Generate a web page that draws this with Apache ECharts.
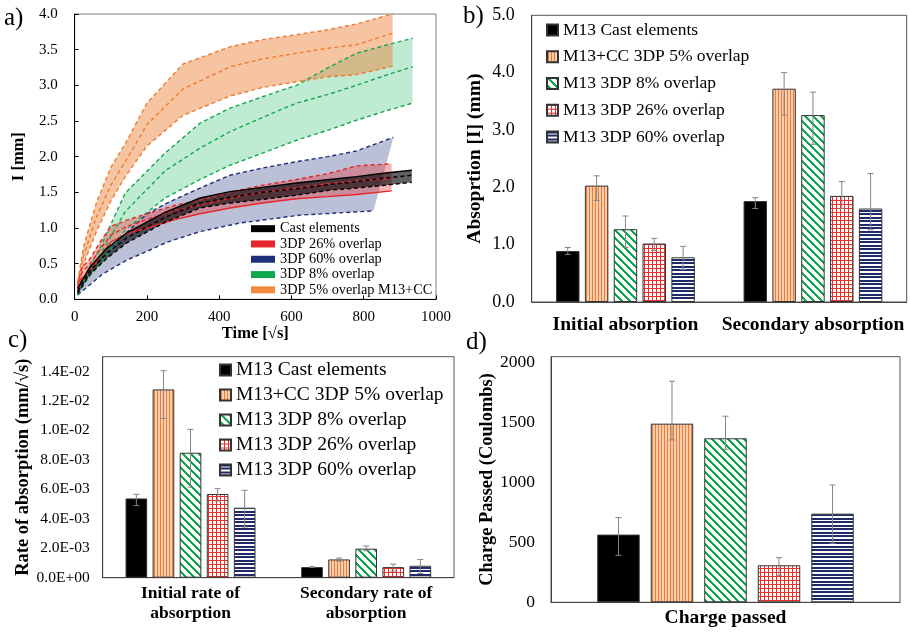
<!DOCTYPE html>
<html>
<head>
<meta charset="utf-8">
<script src="https://cdn.jsdelivr.net/npm/echarts/dist/echarts.min.js"></script>
<style>
  html, body { margin: 0; padding: 0; background: #fff; }
  #main { width: 910px; height: 632px; }
</style>
</head>
<body>
<div id="main"></div>
<script>
// ---- a) absorption curves: upper / mean / lower ----
const orangeX = [8, 25, 60, 100, 140, 200, 300, 430, 520, 614, 700, 780, 880];
const orangeUp = [0.25, 0.75, 1.35, 1.85, 2.18, 2.75, 3.3, 3.54, 3.64, 3.71, 3.78, 3.86, 4.0];
const orangeMid = [0.2, 0.62, 1.15, 1.6, 1.93, 2.45, 2.95, 3.26, 3.37, 3.45, 3.52, 3.57, 3.73];
const orangeLow = [0.15, 0.5, 0.95, 1.38, 1.72, 2.15, 2.58, 2.85, 2.97, 3.05, 3.12, 3.15, 3.27];

const greenX = [8, 30, 70, 140, 250, 347, 430, 520, 614, 706, 780, 860, 935];
const greenUp = [0.1, 0.35, 0.72, 1.49, 2.05, 2.47, 2.68, 2.84, 3.0, 3.26, 3.45, 3.56, 3.66];
const greenMid = [0.08, 0.3, 0.62, 1.23, 1.8, 2.12, 2.35, 2.55, 2.75, 2.88, 3.0, 3.14, 3.26];
const greenLow = [0.06, 0.25, 0.5, 0.97, 1.42, 1.68, 1.88, 2.05, 2.23, 2.38, 2.51, 2.64, 2.75];

const navyUpX = [8, 60, 140, 200, 264, 347, 430, 520, 614, 700, 780, 882];
const navyUp = [0.1, 0.5, 0.92, 1.2, 1.37, 1.56, 1.74, 1.84, 1.93, 2.0, 2.08, 2.27];
const navyLowX = [8, 79, 144, 199, 255, 347, 458, 624, 827];
const navyLow = [0.06, 0.36, 0.55, 0.67, 0.8, 0.95, 1.07, 1.18, 1.24];

const redX = [8, 20, 40, 70, 100, 144, 200, 280, 347, 430, 520, 614, 700, 780, 877];
const redUp = [0.2, 0.45, 0.55, 0.8, 1.02, 1.11, 1.2, 1.32, 1.39, 1.5, 1.6, 1.68, 1.76, 1.87, 1.9];
const redMid = [0.15, 0.38, 0.48, 0.7, 0.9, 1.02, 1.12, 1.25, 1.32, 1.42, 1.5, 1.56, 1.62, 1.66, 1.7];
const redLow = [0.1, 0.3, 0.38, 0.6, 0.8, 0.92, 1.0, 1.12, 1.2, 1.28, 1.35, 1.41, 1.44, 1.47, 1.52];

const castX = [8, 42, 90, 144, 250, 347, 430, 520, 614, 706, 780, 860, 933];
const castUp = [0.15, 0.45, 0.72, 0.93, 1.22, 1.42, 1.51, 1.57, 1.63, 1.68, 1.72, 1.77, 1.81];
const castMid = [0.11, 0.4, 0.65, 0.86, 1.15, 1.35, 1.43, 1.5, 1.55, 1.61, 1.65, 1.7, 1.74];
const castLow = [0.08, 0.35, 0.58, 0.79, 1.08, 1.28, 1.35, 1.4, 1.46, 1.53, 1.56, 1.6, 1.64];

const aLegend = ['Cast elements', '3DP 26% overlap', '3DP 60% overlap', '3DP 8% overlap', '3DP 5% overlap M13+CC'];

// ---- bar panels ----
const barNames = ['M13 Cast elements', 'M13+CC 3DP 5% overlap', 'M13 3DP 8% overlap', 'M13 3DP 26% overlap', 'M13 3DP 60% overlap'];

// b) absorption [I] (mm)
const bCats = ['Initial absorption', 'Secondary absorption'];
const bCast = [0.89, 1.76], bCastLo = [0.83, 1.63], bCastHi = [0.95, 1.82];
const bCC5 = [2.03, 3.72], bCC5Lo = [1.77, 3.26], bCC5Hi = [2.20, 4.0];
const bP8 = [1.27, 3.26], bP8Lo = [0.95, 2.75], bP8Hi = [1.50, 3.66];
const bP26 = [1.02, 1.85], bP26Lo = [0.90, 1.63], bP26Hi = [1.11, 2.10];
const bP60 = [0.78, 1.63], bP60Lo = [0.57, 1.26], bP60Hi = [0.97, 2.24];

// c) rate of absorption (mm/√s)
const cCats = ['Initial rate of\nabsorption', 'Secondary rate of\nabsorption'];
const cCast = [5.38e-3, 0.72e-3], cCastLo = [4.89e-3, 0.69e-3], cCastHi = [5.66e-3, 0.75e-3];
const cCC5 = [12.78e-3, 1.24e-3], cCC5Lo = [10.81e-3, 1.12e-3], cCC5Hi = [14.05e-3, 1.33e-3];
const cP8 = [8.48e-3, 1.97e-3], cP8Lo = [6.15e-3, 1.83e-3], cP8Hi = [10.07e-3, 2.15e-3];
const cP26 = [5.68e-3, 0.72e-3], cP26Lo = [5.2e-3, 0.45e-3], cP26Hi = [6.04e-3, 0.92e-3];
const cP60 = [4.75e-3, 0.81e-3], cP60Lo = [3.44e-3, 0.29e-3], cP60Hi = [5.93e-3, 1.24e-3];

// d) charge passed (Coulombs)
const dCats = ['Charge passed'];
const dVals = [565, 1491, 1369, 309, 740];
const dLo = [392, 1355, 1277, 225, 492];
const dHi = [707, 1845, 1553, 373, 979];

const FONT = "'Liberation Serif', 'Times New Roman', serif";

// 填充图案
function pattern(kind) {
  const cv = document.createElement('canvas');
  let ctx;
  if (kind === 'vstripe') {
    cv.width = 3; cv.height = 3; ctx = cv.getContext('2d');
    ctx.fillStyle = '#F9CDB0'; ctx.fillRect(0, 0, 3, 3);
    ctx.fillStyle = '#ED7D31'; ctx.fillRect(1, 0, 1, 3);
  } else if (kind === 'diag') {
    cv.width = 8; cv.height = 8; ctx = cv.getContext('2d');
    ctx.fillStyle = '#fff'; ctx.fillRect(0, 0, 8, 8);
    ctx.fillStyle = '#12A84E';
    for (let x = 0; x < 8; x++) for (let y = 0; y < 8; y++) {
      if ((((x - y) % 8) + 8) % 8 < 3) ctx.fillRect(x, y, 1, 1);
    }
  } else if (kind === 'grid') {
    cv.width = 4; cv.height = 4; ctx = cv.getContext('2d');
    ctx.fillStyle = '#fff'; ctx.fillRect(0, 0, 4, 4);
    ctx.fillStyle = '#E8302A'; ctx.fillRect(0, 0, 4, 1); ctx.fillRect(0, 0, 1, 4);
  } else {
    cv.width = 4; cv.height = 7; ctx = cv.getContext('2d');
    ctx.fillStyle = '#fff'; ctx.fillRect(0, 0, 4, 7);
    ctx.fillStyle = '#1F2A6B'; ctx.fillRect(0, 0, 4, 2); ctx.fillRect(0, 3, 4, 2);
  }
  return { image: cv, repeat: 'repeat' };
}
const barFills = ['#000', pattern('vstripe'), pattern('diag'), pattern('grid'), pattern('hstripe')];

// 曲线带
function band(name, color, fill, ux, uy, lx, ly, z) {
  return {
    type: 'custom', name, xAxisIndex: 0, yAxisIndex: 0, data: [[0, 0]], silent: true, z,
    itemStyle: { color },
    renderItem(params, api) {
      const pts = [];
      ux.forEach((x, i) => pts.push(api.coord([x, uy[i]])));
      for (let i = lx.length - 1; i >= 0; i--) pts.push(api.coord([lx[i], ly[i]]));
      return { type: 'polygon', shape: { points: pts }, style: { fill } };
    }
  };
}
function curve(xs, ys, color, dashed, z) {
  return {
    type: 'line', xAxisIndex: 0, yAxisIndex: 0, symbol: 'none', silent: true, z,
    data: xs.map((x, i) => [x, ys[i]]),
    lineStyle: { color, width: 1.4, type: dashed ? [4, 3] : 'solid' }
  };
}

// 柱状 + 误差棒
function bars(axis, vals, catGap, gap) {
  return vals.map((v, k) => ({
    type: 'bar', name: barNames[k], xAxisIndex: axis, yAxisIndex: axis, data: v,
    barCategoryGap: catGap, barGap: gap, silent: true,
    itemStyle: { color: barFills[k], borderColor: '#333', borderWidth: 1 }
  }));
}
function errors(axis, lows, highs, catGap, gap) {
  const rows = [];
  lows.forEach((lo, k) => lo.forEach((l, c) => rows.push([c, k, l, highs[k][c]])));
  const n = lows.length;
  return {
    type: 'custom', xAxisIndex: axis, yAxisIndex: axis, data: rows, silent: true, z: 5,
    encode: { x: 0, y: [2, 3] },
    renderItem(params, api) {
      const bw = api.size([1, 0])[0];
      const grp = bw * (1 - catGap);
      const w = grp / (n + (n - 1) * gap);
      const x = api.coord([api.value(0), 0])[0] - grp / 2 + api.value(1) * w * (1 + gap) + w / 2;
      const y1 = api.coord([api.value(0), api.value(2)])[1];
      const y2 = api.coord([api.value(0), api.value(3)])[1];
      const st = { stroke: '#858585', lineWidth: 1 };
      return { type: 'group', children: [
        { type: 'line', shape: { x1: x, y1: y1, x2: x, y2: y2 }, style: st },
        { type: 'line', shape: { x1: x - 3, y1: y1, x2: x + 3, y2: y1 }, style: st },
        { type: 'line', shape: { x1: x - 3, y1: y2, x2: x + 3, y2: y2 }, style: st }
      ] };
    }
  };
}

function sci(v) {
  if (Math.abs(v / 0.002 - Math.round(v / 0.002)) > 1e-6) return '';
  if (Math.abs(v) < 1e-12) return '0.0E+00';
  const e = Math.floor(Math.log10(v) + 1e-9);
  const m = v / Math.pow(10, e);
  return m.toFixed(1) + 'E' + (e < 0 ? '-' : '+') + String(Math.abs(e)).padStart(2, '0');
}

const txt = { color: '#000', fontFamily: FONT };
const boldName = (size) => ({ color: '#000', fontFamily: FONT, fontWeight: 'bold', fontSize: size });

const option = {
  animation: false,
  textStyle: { fontFamily: FONT },
  grid: [
    { left: 74.7, top: 14, width: 361.3, height: 285.3, show: true, borderColor: '#7a7a7a', borderWidth: 1 },
    { left: 531.7, top: 15.3, width: 375, height: 286.7, show: true, borderColor: '#555', borderWidth: 1 },
    { left: 102.7, top: 356.7, width: 351.3, height: 221, show: true, borderColor: '#555', borderWidth: 1 },
    { left: 551, top: 356.7, width: 349, height: 245.6, show: true, borderColor: '#555', borderWidth: 1 }
  ],
  xAxis: [
    { gridIndex: 0, type: 'value', min: 0, max: 1000, interval: 200,
      axisLine: { lineStyle: { color: '#000' } }, axisTick: { inside: true, length: 4, lineStyle: { color: '#000' } },
      axisLabel: { ...txt, fontSize: 15, margin: 10, formatter: v => String(v) }, splitLine: { show: false },
      name: 'Time [√s]', nameLocation: 'middle', nameGap: 25, nameTextStyle: boldName(16.5) },
    { gridIndex: 1, type: 'category', data: bCats,
      axisLine: { lineStyle: { color: '#444' } }, axisTick: { show: false },
      axisLabel: { ...txt, fontWeight: 'bold', fontSize: 19.5, margin: 13, interval: 0, hideOverlap: false } },
    { gridIndex: 2, type: 'category', data: cCats,
      axisLine: { lineStyle: { color: '#444' } }, axisTick: { show: false },
      axisLabel: { ...txt, fontWeight: 'bold', fontSize: 17.5, lineHeight: 20, margin: 6, interval: 0 } },
    { gridIndex: 3, type: 'category', data: dCats,
      axisLine: { lineStyle: { color: '#444' } }, axisTick: { show: false },
      axisLabel: { ...txt, fontWeight: 'bold', fontSize: 19.5, margin: 6, interval: 0 } }
  ],
  yAxis: [
    { gridIndex: 0, type: 'value', min: 0, max: 4, interval: 0.5,
      axisLine: { show: true, lineStyle: { color: '#000' } }, axisTick: { show: true, inside: true, length: 4, lineStyle: { color: '#000' } },
      axisLabel: { ...txt, fontSize: 15, margin: 17, formatter: v => v.toFixed(1) }, splitLine: { show: false },
      name: 'I [mm]', nameLocation: 'middle', nameGap: 47, nameTextStyle: boldName(16.5) },
    { gridIndex: 1, type: 'value', min: 0, max: 5, interval: 1,
      axisLine: { show: true, lineStyle: { color: '#444' } }, axisTick: { show: false },
      axisLabel: { ...txt, fontSize: 18, margin: 17, formatter: v => v.toFixed(1) }, splitLine: { show: false },
      name: 'Absoprtion [I] (mm)', nameLocation: 'middle', nameGap: 47, nameTextStyle: boldName(19.5) },
    { gridIndex: 2, type: 'value', min: 0, max: 0.015, interval: 0.002,
      axisLine: { show: true, lineStyle: { color: '#444' } }, axisTick: { show: false },
      axisLabel: { ...txt, fontSize: 15.5, margin: 13, formatter: sci }, splitLine: { show: false },
      name: 'Rate of absorption (mm/√s)', nameLocation: 'middle', nameGap: 67, nameTextStyle: boldName(18.5) },
    { gridIndex: 3, type: 'value', min: 0, max: 2050, interval: 500,
      axisLine: { show: true, lineStyle: { color: '#444' } }, axisTick: { show: false },
      axisLabel: { ...txt, fontSize: 17.5, margin: 16, formatter: v => (v % 500 === 0 ? String(v) : '') }, splitLine: { show: false },
      name: 'Charge Passed (Coulombs)', nameLocation: 'middle', nameGap: 52, nameTextStyle: boldName(18.4) }
  ],
  legend: [
    { data: aLegend, orient: 'vertical', left: 251, top: 221, padding: 0, itemGap: 0,
      itemWidth: 24, itemHeight: 7, icon: 'rect', selectedMode: false,
      textStyle: { ...txt, fontSize: 14.3, lineHeight: 15.3 } },
    { data: barNames, orient: 'vertical', left: 546, top: 20, padding: 0, itemGap: 6.75,
      itemWidth: 11, itemHeight: 11, icon: 'rect', selectedMode: false,
      textStyle: { ...txt, fontSize: 17.5, lineHeight: 20 } },
    { data: barNames, orient: 'vertical', left: 219, top: 360, padding: 0, itemGap: 5,
      itemWidth: 11, itemHeight: 11, icon: 'rect', selectedMode: false,
      textStyle: { ...txt, fontSize: 19.5, lineHeight: 20 } }
  ],
  graphic: [
    { type: 'text', left: 4, top: 6, style: { text: 'a)', font: '25px ' + FONT, fill: '#000' } },
    { type: 'text', left: 463, top: 4, style: { text: 'b)', font: '25px ' + FONT, fill: '#000' } },
    { type: 'text', left: 8, top: 328, style: { text: 'c)', font: '25px ' + FONT, fill: '#000' } },
    { type: 'text', left: 466, top: 330, style: { text: 'd)', font: '25px ' + FONT, fill: '#000' } }
  ],
  series: [
    band('3DP 60% overlap', '#1F2F7A', 'rgba(31,47,122,0.3)', navyUpX, navyUp, navyLowX, navyLow, 1),
    band('3DP 8% overlap', '#12A84E', 'rgba(0,176,80,0.25)', greenX, greenUp, greenX, greenLow, 1),
    band('3DP 5% overlap M13+CC', '#F08A3C', 'rgba(237,125,49,0.45)', orangeX, orangeUp, orangeX, orangeLow, 1),
    band('3DP 26% overlap', '#E8262A', 'rgba(232,40,40,0.35)', redX, redUp, redX, redLow, 1),
    band('Cast elements', '#000', 'rgba(0,0,0,0.62)', castX, castUp, castX, castLow, 1),
    curve(navyUpX, navyUp, '#1F2F7A', true, 3),
    curve(navyLowX, navyLow, '#1F2F7A', true, 3),
    curve(greenX, greenUp, '#12A84E', true, 3),
    curve(greenX, greenMid, '#12A84E', true, 3),
    curve(greenX, greenLow, '#12A84E', true, 3),
    curve(orangeX, orangeUp, '#ED7D31', true, 3),
    curve(orangeX, orangeMid, '#ED7D31', true, 3),
    curve(orangeX, orangeLow, '#ED7D31', true, 3),
    curve(redX, redUp, '#E8262A', true, 3),
    curve(redX, redMid, '#E8262A', true, 3),
    curve(redX, redLow, '#E8262A', false, 3),
    curve(castX, castUp, '#000', false, 3),
    curve(castX, castMid, '#000', true, 3),
    curve(castX, castLow, '#000', true, 3),
    ...bars(1, [bCast, bCC5, bP8, bP26, bP60], '26%', '23%'),
    errors(1, [bCastLo, bCC5Lo, bP8Lo, bP26Lo, bP60Lo], [bCastHi, bCC5Hi, bP8Hi, bP26Hi, bP60Hi], 0.26, 0.23),
    ...bars(2, [cCast, cCC5, cP8, cP26, cP60], '26%', '25%'),
    errors(2, [cCastLo, cCC5Lo, cP8Lo, cP26Lo, cP60Lo], [cCastHi, cCC5Hi, cP8Hi, cP26Hi, cP60Hi], 0.26, 0.25),
    ...bars(3, dVals.map(v => [v]), '26.5%', '26%'),
    errors(3, dLo.map(v => [v]), dHi.map(v => [v]), 0.265, 0.26)
  ]
};

const chart = echarts.init(document.getElementById('main'));
chart.setOption(option);
</script>
</body>
</html>
